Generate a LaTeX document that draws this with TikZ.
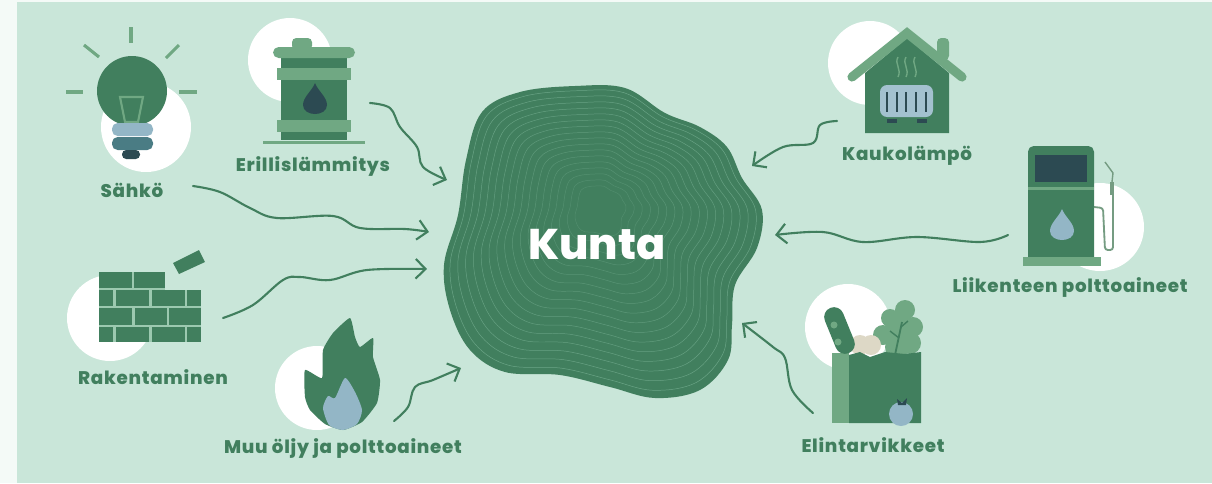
\documentclass[tikz,border=0pt]{standalone}
\usepackage{fontspec}
\usepackage{xcolor}
\usepackage{tikz}
\usetikzlibrary{arrows.meta, positioning}
\setmainfont{Poppins}[BoldFont={Poppins ExtraBold}]
\newfontfamily\labelfont[LetterSpace=4,BoldFont={Poppins ExtraBold}]{Poppins}
\definecolor{pagebg}{HTML}{F4FAF7}
\definecolor{panelbg}{HTML}{C9E6D9}
\definecolor{forest}{HTML}{417F5E}
\definecolor{ringline}{HTML}{6BA587}
\definecolor{sage}{HTML}{70A883}
\definecolor{mortar}{HTML}{9CC9B0}
\definecolor{mist}{HTML}{93B6C6}
\definecolor{teal}{HTML}{4A7C84}
\definecolor{ink}{HTML}{2C4A52}
\definecolor{shell}{HTML}{DDD8C6}
\newcommand{\blobpath}{plot[smooth cycle, tension=0.6] coordinates {
  (575,86) (625,88) (665,113) (700,127) (727,147) (742,178) (762,210) (757,248)
  (735,285) (732,325) (728,360) (700,390) (655,398) (610,387) (560,375) (505,372)
  (470,350) (450,310) (444,265) (458,215) (466,160) (482,112) (520,92)}}
\newcommand{\dropshape}{(0,-17) .. controls (3,-9) and (12,-3) .. (12,5) .. controls (12,11) and (6,14) .. (0,14) .. controls (-6,14) and (-12,11) .. (-12,5) .. controls (-12,-3) and (-3,-9) .. (0,-17) -- cycle}
\begin{document}
\begin{tikzpicture}[
    x=0.025cm, y=-0.025cm,
    disc/.style={circle, fill=white, inner sep=0pt, minimum size=#1*0.025cm},
    itemlabel/.style={text=forest, font=\labelfont\bfseries\fontsize{13}{15}\selectfont, inner sep=0pt},
    wave/.style={draw=forest, line width=1.5pt, line cap=round, line join=round, -{Straight Barb[length=7pt, width=14pt, line width=1.5pt]}},
    ray/.style={draw=sage, line width=2.2pt},
    ring/.style={line width=0.35pt}
  ]
  \fill[pagebg] (0,0) rectangle (1212,483);
  \fill[panelbg] (17,2) rectangle (1212,483);

  % white discs behind the icons
  \node[disc=90] (bulbdisc) at (146,127) {};
  \node[disc=84] (barreldisc) at (290,60) {};
  \node[disc=86] (walldisc) at (110,318) {};
  \node[disc=84] (flamedisc) at (317,388) {};
  \node[disc=84] (housedisc) at (870,63) {};
  \node[disc=88] (pumpdisc) at (1100,227) {};
  \node[disc=86] (bagdisc) at (848,327) {};

  % centre
  \fill[forest] \blobpath;
  \foreach \s [evaluate=\s as \m using 25+75*\s] in {0.96,0.91,0.86,0.81,0.76,0.71,0.66,0.61,0.56,0.51,0.46,0.41,0.36,0.31,0.26,0.21,0.16}
    \draw[ring, draw=ringline!\m!forest, shift={(600,205)}, scale=\s, shift={(-600,-205)}] \blobpath;
  \node[text=white, font=\bfseries\fontsize{30.5}{33}\selectfont, inner sep=0pt] (kunta) at (597,245) {Kunta};

  % bulb
  \fill[forest] (132,91) circle[radius=35];
  \draw[sage, line width=1.5pt] (120,97) -- (143,97) -- (138,122) -- (125,122) -- cycle;
  \fill[mist, rounded corners=4pt] (112,123) rectangle (153,136);
  \fill[teal, rounded corners=4pt] (112,137) rectangle (153,150);
  \fill[ink, rounded corners=3pt] (122,150) rectangle (140,159);
  \draw[ray] (131,27) -- (131,43);
  \draw[ray] (84,45) -- (99,57);
  \draw[ray] (179,45) -- (166,58);
  \draw[ray] (66,92) -- (83,92);
  \draw[ray] (179,92) -- (197,92);

  % barrel
  \fill[forest] (281,58) rectangle (347,140);
  \fill[sage, rounded corners=3pt] (292,38) rectangle (312,50);
  \fill[sage, rounded corners=4pt] (273,47) rectangle (355,58);
  \fill[sage] (277,68) rectangle (351,80);
  \fill[sage] (277,120) rectangle (351,132);
  \fill[sage] (263,141) rectangle (365,143.5);
  \fill[ink, shift={(315,100)}] \dropshape;

  % wall
  \fill[mortar] (99,272) rectangle (165,290);
  \fill[mortar] (99,290) rectangle (201,342);
  \foreach \xa/\xb/\ya/\yb in {99/132/272/288, 134/165/272/288,
      99/113/290/306, 116/149/290/306, 152/185/290/306, 187/201/290/306,
      99/132/308/325, 135/167/308/325, 169/201/308/325,
      99/113/327/342, 116/149/327/342, 152/185/327/342, 187/201/327/342}
    \fill[forest] (\xa,\ya) rectangle (\xb,\yb);
  \fill[forest] (173,263) -- (199,250) -- (205,262) -- (179,274) -- cycle;

  % flame
  \fill[forest] plot[smooth cycle, tension=0.3] coordinates {(350,318) (355,337) (360,347) (373,338) (373,357)
    (380,380) (377,403) (362,422) (343,430) (325,424) (310,410) (305,397) (305,370) (322,378) (323,350) (333,333)};
  \fill[mist] plot[smooth cycle, tension=0.4] coordinates {(345,378) (355,392) (362,410) (357,424) (343,430) (329,425) (323,408) (328,396) (335,398)};

  % house
  \fill[forest] (865,133) -- (949,133) -- (949,73) -- (907,38) -- (865,73) -- cycle;
  \fill[sage, rounded corners=3pt] (937,38) rectangle (949,60);
  \draw[sage, line width=6.5pt, line cap=round] (852,77) -- (907,33) -- (962,77);
  \foreach \x in {898,906,915}
    \draw[sage, line width=1pt] (\x,57) .. controls (\x-4,64) and (\x+4,69) .. (\x,77);
  \fill[mist!85!white, rounded corners=5pt] (880,85) rectangle (933,117);
  \foreach \x in {887,897,906,916,926}
    \fill[ink] (\x-1,92) rectangle (\x+1,112);
  \fill[ink] (887,119) rectangle (897,123);
  \fill[ink] (917,119) rectangle (927,123);

  % pump
  \fill[forest] (1028,257) [rounded corners=4pt] -- (1028,146) -- (1094,146) [sharp corners] -- (1094,257) -- cycle;
  \fill[ink] (1035,155) rectangle (1087,182);
  \fill[sage] (1028,187) rectangle (1094,190);
  \fill[sage] (1023,257) rectangle (1101,266);
  \fill[mist, shift={(1062,226)}] \dropshape;
  \draw[sage!70!gray, line width=1.3pt, rounded corners=2pt] (1094,207) -- (1103,208) -- (1105,250) -- (1113,250) -- (1113,195);
  \draw[sage!70!gray, line width=2.5pt] (1112,182) -- (1112,195);
  \draw[sage!70!gray, line width=1pt] (1112,182) -- (1113,173) -- (1105,162);

  % bag
  \fill[sage] (832,353) rectangle (849,423);
  \foreach \cx/\cy/\r in {905/310/10, 890/318/9, 913/327/10, 883/335/10, 910/343/11, 897/347/12, 898/327/13}
    \fill[sage] (\cx,\cy) circle[radius=\r];
  \fill[shell] (860,345) circle[radius=10];
  \fill[shell] (871,345) circle[radius=10];
  \draw[forest, line width=14pt, line cap=round] (834,317) -- (845,344);
  \fill[sage] (834,325) circle[radius=3.5];
  \fill[sage] (838,342) circle[radius=3.5];
  \fill[forest] (849,355) -- (860,352) -- (870,357) -- (885,352) -- (905,354) -- (921,352) -- (921,423) -- (849,423) -- cycle;
  \draw[forest, line width=1.3pt] (895,355) -- (902,322);
  \draw[forest, line width=1pt] (899,338) -- (890,331);
  \draw[forest, line width=1pt] (901,327) -- (908,321);
  \fill[mist] (901,414) circle[radius=12];
  \fill[ink] (897,399) -- (902,403) -- (907,398) -- (906,405) -- (898,405) -- cycle;

  % labels
  \node[itemlabel] (sahko) at (132,190) {Sähkö};
  \node[itemlabel] (erillis) at (313,166) {Erillislämmitys};
  \node[itemlabel] (rakent) at (153,377) {Rakentaminen};
  \node[itemlabel] (muu) at (343,448) {Muu öljy ja polttoaineet};
  \node[itemlabel] (kauko) at (907,156) {Kaukolämpö};
  \node[itemlabel] (liikenne) at (1070,287) {Liikenteen polttoaineet};
  \node[itemlabel] (elintarv) at (873,445) {Elintarvikkeet};

  % free ends of the arrows
  \coordinate (erillisStart) at (370,103);
  \coordinate (erillisEnd) at (447,180);
  \coordinate (sahkoStart) at (193,186);
  \coordinate (sahkoEnd) at (429,232);
  \coordinate (rakentStart) at (223,318);
  \coordinate (rakentEnd) at (427,269);
  \coordinate (muuStart) at (394,421);
  \coordinate (muuEnd) at (461,368);
  \coordinate (kaukoStart) at (837,121);
  \coordinate (kaukoEnd) at (752,166);
  \coordinate (liikenneStart) at (1008,235);
  \coordinate (liikenneEnd) at (775,235);
  \coordinate (elintarvStart) at (813,413);
  \coordinate (elintarvEnd) at (742,323);

  \draw[wave] plot[smooth, tension=0.6] coordinates {(erillisStart) (390,108) (400,127) (417,147) (423,167) (erillisEnd)};
  \draw[wave] plot[smooth, tension=0.6] coordinates {(sahkoStart) (220,192) (250,208) (277,218) (333,216) (360,228) (405,229) (sahkoEnd)};
  \draw[wave] plot[smooth, tension=0.6] coordinates {(rakentStart) (253,305) (283,280) (300,277) (330,280) (367,270) (rakentEnd)};
  \draw[wave] plot[smooth, tension=0.6] coordinates {(muuStart) (408,407) (415,387) (433,380) (muuEnd)};
  \draw[wave] plot[smooth, tension=0.6] coordinates {(kaukoStart) (820,125) (813,143) (783,147) (kaukoEnd)};
  \draw[wave] plot[smooth, tension=0.6] coordinates {(liikenneStart) (980,242) (917,237) (863,242) (823,232) (liikenneEnd)};
  \draw[wave] plot[smooth, tension=0.6] coordinates {(elintarvStart) (792,390) (785,358) (773,347) (elintarvEnd)};
\end{tikzpicture}
\end{document}
